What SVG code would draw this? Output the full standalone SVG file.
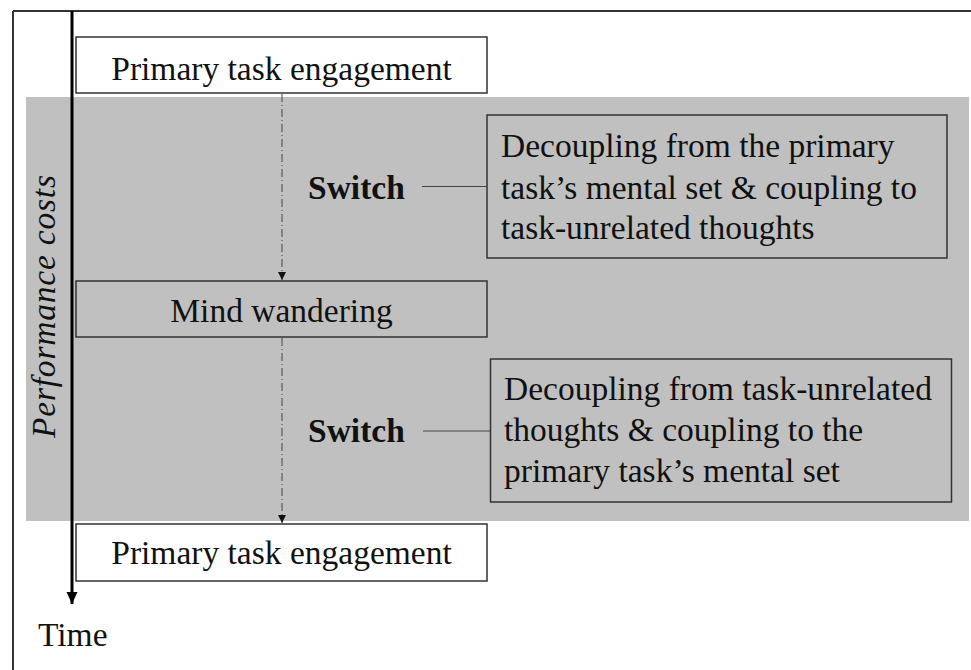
<svg xmlns="http://www.w3.org/2000/svg" width="971" height="670" viewBox="0 0 971 670">
  <defs>
    <style>
      .t { font-family: "Liberation Serif", "Times New Roman", serif; font-size: 33.5px; fill: #111; }
      .b { font-weight: bold; }
      .box { stroke: #333; stroke-width: 1.5; }
      .dd { stroke: #444; stroke-width: 1; stroke-dasharray: 8 3 1 3; fill: none; }
      .ln { stroke: #444; stroke-width: 1.2; fill: none; }
    </style>
    <marker id="sa" markerWidth="8" markerHeight="10" refX="8" refY="5" orient="auto" markerUnits="userSpaceOnUse">
      <path d="M0,1 L8,5 L0,9 Z" fill="#111"/>
    </marker>
    <marker id="ta" markerWidth="12" markerHeight="12" refX="12" refY="6" orient="auto" markerUnits="userSpaceOnUse">
      <path d="M0,0.5 L12,6 L0,11.5 Z" fill="#000"/>
    </marker>
  </defs>
  <rect x="0" y="0" width="971" height="670" fill="#fff"/>
  <!-- gray band -->
  <rect id="band" x="26" y="97" width="943" height="424" fill="#c0c0c0"/>
  <!-- outer frame -->
  <g id="frame">
    <line x1="13" y1="11" x2="971" y2="11" stroke="#333" stroke-width="2"/>
    <line x1="13" y1="11" x2="13" y2="670" stroke="#333" stroke-width="2"/>
  </g>
  <!-- time axis -->
  <g id="time-axis">
    <line x1="72" y1="11" x2="72" y2="604" stroke="#000" stroke-width="3" marker-end="url(#ta)"/>
    <text class="t" x="38" y="646">Time</text>
  </g>
  <text id="perf" class="t" font-style="italic" transform="translate(55,306.5) rotate(-90)" text-anchor="middle" textLength="263" lengthAdjust="spacing">Performance costs</text>

  <g id="connectors">
    <line class="dd" x1="282" y1="94" x2="282" y2="280" marker-end="url(#sa)"/>
    <line class="dd" x1="282" y1="338" x2="282" y2="523" marker-end="url(#sa)"/>
    <line class="ln" x1="422" y1="186.5" x2="487" y2="186.5"/>
    <line class="ln" x1="423" y1="431" x2="490" y2="431"/>
  </g>

  <g id="top-box">
    <rect class="box" x="76" y="37" width="411" height="56" fill="#fff"/>
    <text class="t" x="281.5" y="80" text-anchor="middle">Primary task engagement</text>
  </g>
  <g id="switch1">
    <text class="t b" x="308" y="199">Switch</text>
  </g>
  <g id="decouple1">
    <rect class="box" x="487" y="115" width="460" height="143" fill="#c0c0c0"/>
    <text class="t" x="501" y="157">Decoupling from the primary</text>
    <text class="t" x="501" y="199">task’s mental set &amp; coupling to</text>
    <text class="t" x="501" y="239">task-unrelated thoughts</text>
  </g>
  <g id="mind-wandering">
    <rect class="box" x="76" y="281" width="411" height="56" fill="#c0c0c0"/>
    <text class="t" x="281.5" y="322" text-anchor="middle">Mind wandering</text>
  </g>
  <g id="switch2">
    <text class="t b" x="308" y="442">Switch</text>
  </g>
  <g id="decouple2">
    <rect class="box" x="490.5" y="359" width="461" height="143" fill="#c0c0c0"/>
    <text class="t" x="504" y="400">Decoupling from task-unrelated</text>
    <text class="t" x="504" y="441">thoughts &amp; coupling to the</text>
    <text class="t" x="504" y="482">primary task’s mental set</text>
  </g>
  <g id="bottom-box">
    <rect class="box" x="76" y="524" width="411" height="57" fill="#fff"/>
    <text class="t" x="281.5" y="564" text-anchor="middle">Primary task engagement</text>
  </g>
</svg>
